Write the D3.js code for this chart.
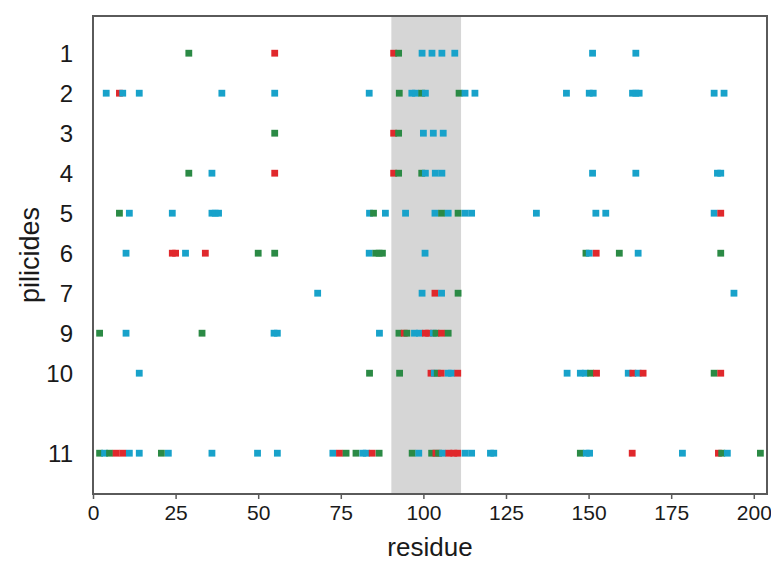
<!DOCTYPE html>
<html>
<head>
<meta charset="utf-8">
<script src="https://cdn.jsdelivr.net/npm/d3@7"></script>
<style>
  body { margin: 0; background: #fff; }
  text { font-family: "Liberation Sans", Arial, Helvetica, sans-serif; }
</style>
</head>
<body>
<svg id="chart" width="771" height="564"></svg>
<script>
// categories, in order top to bottom, and where each sits (11 is pushed down one slot)
const rowLabels = ["1", "2", "3", "4", "5", "6", "7", "9", "10", "11"];
const rowSlots = [0, 1, 2, 3, 4, 5, 6, 7, 8, 10];
const xTicks = [0, 25, 50, 75, 100, 125, 150, 175, 200];
const region = [90.3, 111.4]; // shaded residue range

// contacts per row: [residue, type]  g = green, r = red, b = blue
const row1 = [[29,"g"],[55,"r"],[91,"r"],[92.5,"g"],[99.6,"b"],[102.6,"b"],[105.6,"b"],[109.5,"b"],[151.2,"b"],[164.3,"b"]];
const row2 = [[4,"b"],[8,"r"],[9,"b"],[14,"b"],[39,"b"],[55,"b"],[83.6,"b"],[92.7,"g"],[96.5,"b"],[97.6,"b"],[99.5,"g"],[100.6,"b"],[110.8,"g"],[112.6,"b"],[115.6,"b"],[143.3,"b"],[150.2,"b"],[151.4,"b"],[163.3,"b"],[164.3,"b"],[165.3,"b"],[188,"b"],[191,"b"]];
const row3 = [[55,"g"],[91,"r"],[92.5,"g"],[100,"b"],[103,"b"],[106,"b"]];
const row4 = [[29,"g"],[36,"b"],[55,"r"],[91,"r"],[92.5,"g"],[99.5,"g"],[100.6,"b"],[103.6,"b"],[105.6,"b"],[189,"b"],[190,"b"],[151.2,"b"],[164.3,"b"]];
const row5 = [[8,"g"],[11,"b"],[24,"b"],[36,"b"],[37,"b"],[38,"b"],[83.7,"b"],[84.9,"g"],[88.5,"b"],[94.6,"b"],[103.5,"b"],[105.5,"g"],[107.5,"b"],[110.5,"g"],[112.6,"b"],[114.6,"b"],[134.2,"b"],[152.2,"b"],[155.2,"b"],[188,"b"],[190,"r"]];
const row6 = [[10,"b"],[24,"r"],[25,"r"],[28,"b"],[34,"r"],[50,"g"],[55,"g"],[83.6,"b"],[85.6,"g"],[86.6,"g"],[87.6,"g"],[100.5,"b"],[149.2,"g"],[150.2,"b"],[152.3,"r"],[159.3,"g"],[165,"b"],[190,"g"]];
const row7 = [[68,"b"],[99.6,"b"],[103.5,"r"],[105.5,"b"],[110.5,"g"],[194,"b"]];
const row9 = [[2,"g"],[10,"b"],[33,"g"],[54.8,"b"],[55.8,"b"],[86.7,"b"],[92.6,"g"],[94.2,"r"],[95,"g"],[97.3,"b"],[98.8,"b"],[100.6,"r"],[101.6,"r"],[103,"b"],[103.8,"g"],[105.5,"r"],[107.5,"g"]];
const row10 = [[14,"b"],[83.7,"g"],[92.8,"g"],[102.3,"r"],[103.3,"b"],[104.2,"g"],[105.4,"r"],[107.5,"b"],[108.5,"b"],[110.4,"r"],[143.5,"b"],[147.5,"b"],[149,"b"],[150.6,"g"],[152.4,"r"],[162,"b"],[163.4,"r"],[165,"b"],[166.5,"r"],[188,"g"],[190,"r"]];
const row11 = [[2,"g"],[3.5,"b"],[5,"g"],[7,"r"],[9,"r"],[11,"b"],[14,"b"],[20.7,"g"],[22.8,"b"],[36,"b"],[49.8,"b"],[55.8,"b"],[72.6,"b"],[74.6,"r"],[76.6,"g"],[79.6,"g"],[81.7,"b"],[82.7,"b"],[84.5,"r"],[86.6,"g"],[96.6,"g"],[98.6,"b"],[102.5,"g"],[103.8,"r"],[104.6,"g"],[105.8,"b"],[107.7,"r"],[109.2,"r"],[110.4,"r"],[112.6,"b"],[114.6,"b"],[120.3,"b"],[121.3,"b"],[147.5,"g"],[149.3,"b"],[150.3,"b"],[163.2,"r"],[178.4,"b"],[189.3,"r"],[190.3,"g"],[192,"b"],[202,"g"]];
const rows = [row1, row2, row3, row4, row5, row6, row7, row9, row10, row11];

const colours = { g: "#2b8a45", r: "#e0282c", b: "#18a2ca" };

const svg = d3.select("#chart");
const plotL = 93, plotR = 767, plotT = 16, plotB = 494;

const x = d3.scaleLinear().domain([0, 204]).range([plotL, plotR]);
const y = d3.scaleLinear().domain([-0.93, 11.02]).range([plotT, plotB]);

//shaded region
svg.append("rect")
  .attr("x", x(region[0]))
  .attr("y", plotT)
  .attr("width", x(region[1]) - x(region[0]))
  .attr("height", plotB - plotT)
  .attr("fill", "#d6d6d6");

//markers
const w = 6.8;
rows.forEach((row, i) => {
  svg.append("g")
    .selectAll("rect")
    .data(row)
    .join("rect")
    .attr("x", (d) => x(d[0]) - w / 2)
    .attr("y", y(rowSlots[i]) - w / 2)
    .attr("width", w)
    .attr("height", w)
    .attr("fill", (d) => colours[d[1]]);
});

//frame
svg.append("rect")
  .attr("x", plotL)
  .attr("y", plotT)
  .attr("width", plotR - plotL)
  .attr("height", plotB - plotT)
  .attr("fill", "none")
  .attr("stroke", "#5a5a5a")
  .attr("stroke-width", 2);

//x axis
const xAxis = svg.append("g")
  .attr("transform", `translate(0,${plotB})`)
  .call(d3.axisBottom(x).tickValues(xTicks).tickSize(5).tickPadding(6));
xAxis.select(".domain").remove();
xAxis.selectAll("line").attr("stroke", "#5a5a5a").attr("stroke-width", 1.5);
xAxis.selectAll("text")
  .attr("font-size", 21)
  .attr("fill", "#1a1a1a")
  .style("font-family", "'Liberation Sans', Arial, sans-serif");

//y labels
svg.append("g")
  .selectAll("text")
  .data(rowLabels)
  .join("text")
  .attr("x", 73)
  .attr("y", (d, i) => y(rowSlots[i]))
  .attr("dy", "0.36em")
  .attr("text-anchor", "end")
  .attr("font-size", 24)
  .attr("fill", "#1a1a1a")
  .text((d) => d);

//axis titles
svg.append("text")
  .attr("x", (plotL + plotR) / 2)
  .attr("y", 556)
  .attr("text-anchor", "middle")
  .attr("font-size", 26)
  .attr("fill", "#1a1a1a")
  .text("residue");

svg.append("text")
  .attr("transform", `translate(39,${(plotT + plotB) / 2}) rotate(-90)`)
  .attr("text-anchor", "middle")
  .attr("font-size", 27)
  .attr("fill", "#1a1a1a")
  .text("pilicides");
</script>
</body>
</html>
